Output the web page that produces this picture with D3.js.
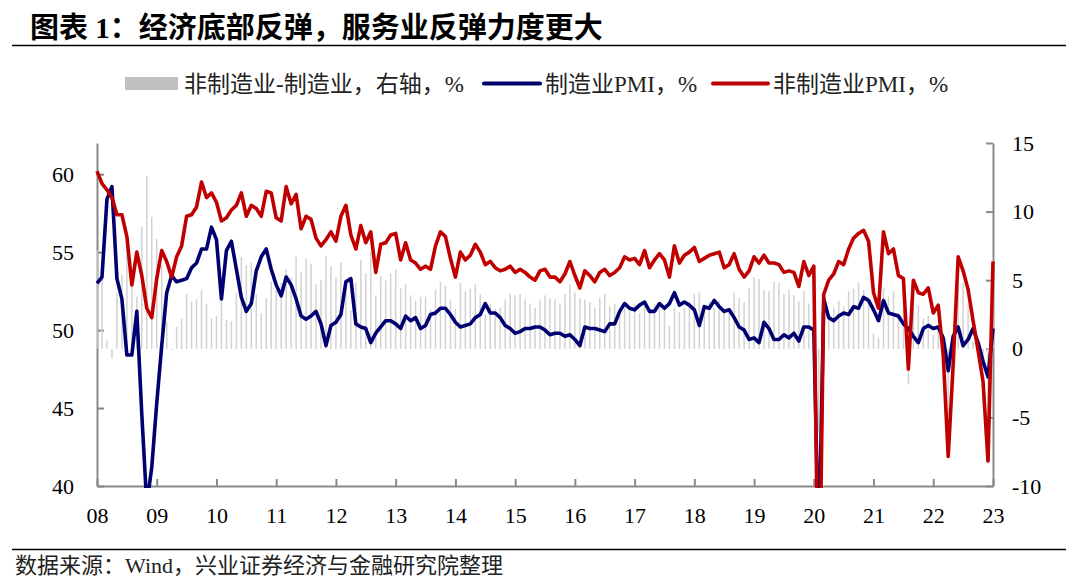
<!DOCTYPE html>
<html><head><meta charset="utf-8">
<script src="https://cdn.jsdelivr.net/npm/d3@7"></script>
<style>
body{margin:0;background:#fff;}
svg{display:block;}
</style></head><body>
<svg id="chart" width="1080" height="578"></svg>
<script>
// ---------- data ----------
const titleText = "图表 1：经济底部反弹，服务业反弹力度更大";
const sourceText = "数据来源：Wind，兴业证券经济与金融研究院整理";
const seriesNames = ["非制造业-制造业，右轴，%", "制造业PMI，%", "非制造业PMI，%"];
const yearLabels = ["08","09","10","11","12","13","14","15","16","17","18","19","20","21","22","23"];
const leftTicks = [40, 45, 50, 55, 60];
const rightTicks = [-10, -5, 0, 5, 10, 15];

// monthly, Jan 2008 .. Jan 2023
const mfgPMI = [
  53.0,53.4,58.4,59.2,53.3,52.0,48.4,48.4,51.2,44.6,38.8,41.2,
  45.3,49.0,52.4,53.5,53.1,53.2,53.3,54.0,54.3,55.2,55.2,56.6,
  55.8,52.0,55.1,55.7,53.9,52.1,51.2,51.7,53.8,54.7,55.2,53.9,
  52.9,52.2,53.4,52.9,52.0,50.9,50.7,50.9,51.2,50.4,49.0,50.3,
  50.5,51.0,53.1,53.3,50.4,50.2,50.1,49.2,49.8,50.2,50.6,50.6,
  50.4,50.1,50.9,50.6,50.8,50.1,50.3,51.0,51.1,51.4,51.4,51.0,
  50.5,50.2,50.3,50.4,50.8,51.0,51.7,51.1,51.1,50.8,50.3,50.1,
  49.8,49.9,50.1,50.1,50.2,50.2,50.0,49.7,49.8,49.8,49.6,49.7,
  49.4,49.0,50.2,50.1,50.1,50.0,49.9,50.4,50.4,51.2,51.7,51.4,
  51.3,51.6,51.8,51.2,51.2,51.7,51.4,51.7,52.4,51.6,51.8,51.6,
  51.3,50.3,51.5,51.4,51.9,51.5,51.2,51.3,50.8,50.2,50.0,49.4,
  49.5,49.2,50.5,50.1,49.4,49.4,49.7,49.5,49.8,49.3,50.2,50.2,
  50.0,35.7,52.0,50.8,50.6,50.9,51.1,51.0,51.5,51.4,52.1,51.9,
  51.3,50.6,51.9,51.1,51.0,50.9,50.4,50.1,49.6,49.2,50.1,50.3,
  50.1,50.2,49.5,47.4,49.6,50.2,49.0,49.4,50.1,49.2,48.0,47.0,
  50.1
];
const nonMfgPMI = [
  60.2,59.4,59.0,58.5,57.4,57.4,56.0,52.9,55.0,53.5,51.4,50.8,
  53.3,55.1,54.4,53.4,54.7,55.4,57.3,57.4,57.9,59.5,58.5,58.8,
  58.2,57.0,57.2,57.7,58.0,58.8,57.3,58.0,57.8,57.3,58.9,58.8,
  57.2,57.0,59.2,58.1,58.7,56.5,57.3,57.1,55.9,55.4,55.8,56.3,
  55.7,57.3,58.0,56.1,55.2,56.7,55.6,56.3,53.7,55.5,55.6,56.1,
  56.2,54.5,55.6,54.5,54.3,53.9,54.1,53.9,55.4,56.3,56.0,54.6,
  53.4,55.0,54.5,54.8,55.5,55.0,54.2,54.4,54.0,53.8,53.9,54.1,
  53.7,53.9,53.7,53.4,53.2,53.8,53.9,53.4,53.4,53.1,53.6,54.4,
  53.5,52.7,53.8,53.5,53.1,53.7,53.9,53.5,53.7,54.0,54.7,54.5,
  54.6,54.2,55.1,54.0,54.5,54.9,54.5,53.4,55.4,54.3,54.8,55.0,
  55.3,54.4,54.6,54.8,54.9,55.0,54.0,54.2,54.9,53.9,53.4,53.8,
  54.7,54.3,54.8,54.3,54.3,54.2,53.7,53.8,53.7,52.8,54.4,53.5,
  54.1,29.6,52.3,53.2,53.6,54.4,54.2,55.2,55.9,56.2,56.4,55.7,
  52.4,51.4,56.3,54.9,55.2,53.5,53.3,47.5,53.2,52.4,52.3,52.7,
  51.1,51.6,48.4,41.9,47.8,54.7,53.8,52.6,50.6,48.7,46.7,41.6,
  54.4
];
const spread = [
  7.2,6.0,0.6,-0.7,4.1,5.4,7.6,4.5,3.8,8.9,12.6,9.6,
  8.0,6.1,2.0,-0.1,1.6,2.2,4.0,3.4,3.6,4.3,3.3,2.2,
  2.4,5.0,2.1,2.0,4.1,6.7,6.1,6.3,4.0,2.6,3.7,4.9,
  4.3,4.8,5.8,5.2,6.7,5.6,6.6,6.2,4.7,5.0,6.8,6.0,
  5.2,6.3,4.9,2.8,4.8,6.5,5.5,7.1,3.9,5.3,5.0,5.5,
  5.8,4.4,4.7,3.9,3.5,3.8,3.8,2.9,4.3,4.9,4.6,3.6,
  2.9,4.8,4.2,4.4,4.7,4.0,2.5,3.3,2.9,3.0,3.6,4.0,
  3.9,4.0,3.6,3.3,3.0,3.6,3.9,3.7,3.6,3.3,4.0,4.7,
  4.1,3.7,3.6,3.4,3.0,3.7,4.0,3.1,3.3,2.8,3.0,3.1,
  3.3,2.6,3.3,2.8,3.3,3.2,3.1,1.7,3.0,2.7,3.0,3.4,
  4.0,4.1,3.1,3.4,3.0,3.5,2.8,2.9,4.1,3.7,3.4,4.4,
  5.2,5.1,4.3,4.2,4.9,4.8,4.0,4.3,3.9,3.5,4.2,3.3,
  4.1,-6.1,0.3,2.4,3.0,3.5,3.1,4.2,4.4,4.8,4.3,3.8,
  1.1,0.8,4.4,3.8,4.2,2.6,2.9,-2.6,3.6,3.2,2.2,2.4,
  1.0,1.4,-1.1,-5.5,-1.8,4.5,4.8,3.2,0.5,-0.5,-1.3,-5.4,
  4.3
];
const months = d3.timeMonth.range(new Date(2008,0,1), new Date(2023,1,1)).map(d3.timeFormat("%Y-%m"));

// ---------- layout ----------
const plot = {left: 97, right: 993, top: 143, bottom: 486};
const colors = {bar: "#d2d2d2", mfg: "#000070", non: "#c00000", axis: "#898989"};
const numFont = "'Liberation Serif', 'Times New Roman', serif";
const cjkFont = "'Liberation Serif', 'Noto Sans CJK SC', serif";

const svg = d3.select("#chart");

const x = d3.scalePoint().domain(months).range([plot.left, plot.right]).padding(0);
const yL = d3.scaleLinear().domain([40, 62]).range([plot.bottom, plot.top]);
const yR = d3.scaleLinear().domain([-10, 15]).range([plot.bottom, plot.top]);

// title
svg.append("text").attr("x", 30).attr("y", 38)
  .attr("font-family", cjkFont).attr("font-weight", "bold").attr("font-size", 29)
  .attr("fill", "#000").text(titleText);
svg.append("line").attr("x1", 12).attr("x2", 1066).attr("y1", 45.5).attr("y2", 45.5)
  .attr("stroke", "#000").attr("stroke-width", 1.5);

// legend
const lg = svg.append("g").attr("font-family", cjkFont).attr("font-size", 23).attr("fill", "#222");
lg.append("rect").attr("x", 125).attr("y", 77).attr("width", 53).attr("height", 13).attr("fill", "#c0c0c0");
lg.append("text").attr("x", 184).attr("y", 92).text(seriesNames[0]);
lg.append("line").attr("x1", 484).attr("x2", 540).attr("y1", 83.5).attr("y2", 83.5)
  .attr("stroke", colors.mfg).attr("stroke-width", 4).attr("stroke-linecap", "round");
lg.append("text").attr("x", 545).attr("y", 92).text(seriesNames[1]);
lg.append("line").attr("x1", 713).attr("x2", 768).attr("y1", 83.5).attr("y2", 83.5)
  .attr("stroke", colors.non).attr("stroke-width", 4).attr("stroke-linecap", "round");
lg.append("text").attr("x", 773).attr("y", 92).text(seriesNames[2]);

// axes
function styleAxis(g) {
  g.select(".domain").attr("stroke", colors.axis).attr("stroke-width", 2);
  g.selectAll(".tick line").attr("stroke", colors.axis).attr("stroke-width", 2);
  g.selectAll(".tick text").attr("font-family", numFont).attr("font-size", 22).attr("fill", "#000");
}
svg.append("g").attr("transform", `translate(${plot.left},0)`)
  .call(d3.axisLeft(yL).tickValues(leftTicks).tickFormat(d => String(d)).tickSizeInner(-7).tickSizeOuter(0).tickPadding(23))
  .call(styleAxis);
svg.append("g").attr("transform", `translate(${plot.right},0)`)
  .call(d3.axisRight(yR).tickValues(rightTicks).tickFormat(d => String(d)).tickSizeInner(-7).tickSizeOuter(0).tickPadding(19))
  .call(styleAxis);
const janCats = months.filter(m => m.endsWith("-01"));
svg.append("g").attr("transform", `translate(0,${plot.bottom})`)
  .call(d3.axisBottom(x).tickValues(janCats).tickFormat((d, i) => yearLabels[i]).tickSizeInner(-7).tickSizeOuter(0).tickPadding(21))
  .call(styleAxis);

// clip
svg.append("clipPath").attr("id", "clip").append("rect")
  .attr("x", plot.left - 4).attr("y", plot.top - 4)
  .attr("width", plot.right - plot.left + 8).attr("height", plot.bottom - plot.top + 6);

const series = svg.append("g").attr("clip-path", "url(#clip)");

// bars
series.append("g").selectAll("rect").data(spread).join("rect")
  .attr("x", (d, i) => x(months[i]) - 0.75)
  .attr("width", 1.5)
  .attr("y", d => yR(Math.max(0, d)))
  .attr("height", d => Math.abs(yR(d) - yR(0)))
  .attr("fill", colors.bar);

const line = d3.line().x((d, i) => x(months[i])).y(d => yL(d));
series.append("path").datum(mfgPMI).attr("d", line)
  .attr("fill", "none").attr("stroke", colors.mfg).attr("stroke-width", 3.6).attr("stroke-linejoin", "round");
series.append("path").datum(nonMfgPMI).attr("d", line)
  .attr("fill", "none").attr("stroke", colors.non).attr("stroke-width", 3.6).attr("stroke-linejoin", "round");

// source
svg.append("line").attr("x1", 12).attr("x2", 1066).attr("y1", 549.5).attr("y2", 549.5)
  .attr("stroke", "#000").attr("stroke-width", 1.5);
svg.append("text").attr("x", 15).attr("y", 573)
  .attr("font-family", cjkFont).attr("font-size", 22).attr("fill", "#222").text(sourceText);
</script>
</body></html>
